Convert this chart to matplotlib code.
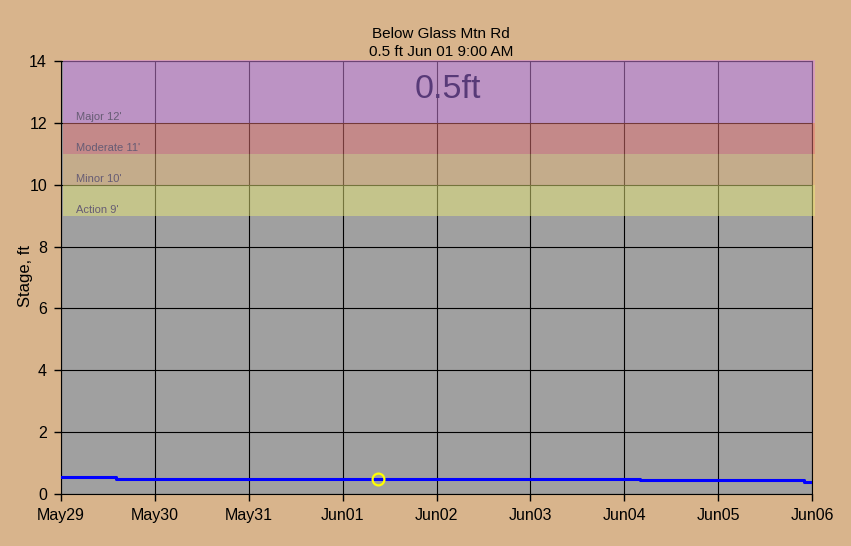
import matplotlib
matplotlib.use("Agg")
import matplotlib.pyplot as plt
import matplotlib.dates as mdates
import matplotlib.transforms as mtransforms
import numpy as np
import pandas as pd

# ---- data ----
title_line1 = "Below Glass Mtn Rd"
title_line2 = "0.5 ft Jun 01 9:00 AM"
big_label = "0.5ft"

stage_times = pd.to_datetime([
    "2025-05-29 00:00", "2025-05-29 14:00", "2025-06-02 15:00",
    "2025-06-04 04:00", "2025-06-05 22:00", "2025-06-06 00:00",
])
stage_values = [0.54, 0.49, 0.47, 0.44, 0.39, 0.39]

current_time = pd.Timestamp("2025-06-01 09:00")
current_value = 0.49

band_names = ["Action 9'", "Minor 10'", "Moderate 11'", "Major 12'"]
band_low = [9, 10, 11, 12]
band_high = [10, 11, 12, 14]
band_colors = ["#E8E878", "#E8B878", "#E87474", "#D888E8"]

x_start = pd.Timestamp("2025-05-29")
x_end = pd.Timestamp("2025-06-06")
tick_dates = pd.date_range(x_start, x_end, freq="D")
tick_labels = ["May29", "May30", "May31", "Jun01", "Jun02", "Jun03", "Jun04", "Jun05", "Jun06"]
y_ticks = [0, 2, 4, 6, 8, 10, 12, 14]

# ---- figure ----
bg = "#D8B48C"
fig = plt.figure(figsize=(8.51, 5.46), dpi=100, facecolor=bg)
ax = fig.add_axes([61/851, 52/546, 751/851, 433/546])
ax.set_facecolor("#A0A0A0")

font = "Liberation Sans"

ax.set_xlim(x_start, x_end)
ax.set_ylim(0, 14)
ax.set_xticks(tick_dates)
ax.set_xticklabels(tick_labels, fontsize=11.5, family=font)
ax.set_yticks(y_ticks)
ax.set_yticklabels([str(v) for v in y_ticks], fontsize=11.5, family=font)
ax.tick_params(axis="both", length=5, width=1, color="black", direction="out", pad=5)

ax.grid(True, color="black", linewidth=0.8, zorder=1)
ax.set_axisbelow(True)
for s in ax.spines.values():
    s.set_color("black")
    s.set_linewidth(0.8)

# flood bands, semi-transparent, slightly overhanging the plot on the right/top
trans = mtransforms.blended_transform_factory(ax.transAxes, ax.transData)
for lo, hi, c in zip(band_low, band_high, band_colors):
    top = hi + 0.04 if hi == 14 else hi
    r = plt.Rectangle((0.002, lo), 1.004 - 0.002, top - lo, transform=trans,
                      facecolor=c, edgecolor="none", alpha=0.5, zorder=3, clip_on=False)
    ax.add_patch(r)

for name, lo in zip(band_names, band_low):
    ax.annotate(name, xy=(0.02, lo), xycoords=trans, xytext=(0, 2), textcoords="offset points",
                ha="left", va="baseline", fontsize=8, family=font, color="#665C74", zorder=4)

# big current value text
ax.text(0.5145, 0.935, big_label, transform=ax.transAxes, ha="center", va="center",
        fontsize=24.5, family=font, color="#583A78", zorder=4)

# stage line
ax.step(stage_times, stage_values, where="post", color="#0000FF", linewidth=2.2, zorder=5)
ax.plot([current_time], [current_value], marker="o", markersize=8.5, markerfacecolor="none",
        markeredgecolor="#FFFF00", markeredgewidth=1.6, zorder=6, linestyle="none")

ax.set_ylabel("Stage, ft", fontsize=12, family=font)
ax.yaxis.set_label_coords((33 - 61) / 751, 0.503)
fig.text(441/851, 1 - 34/546, title_line1, ha="center", va="center", fontsize=11, family=font)
fig.text(441/851, 1 - 52/546, title_line2, ha="center", va="center", fontsize=11, family=font)

fig.savefig("out.png", dpi=100, facecolor=bg)
